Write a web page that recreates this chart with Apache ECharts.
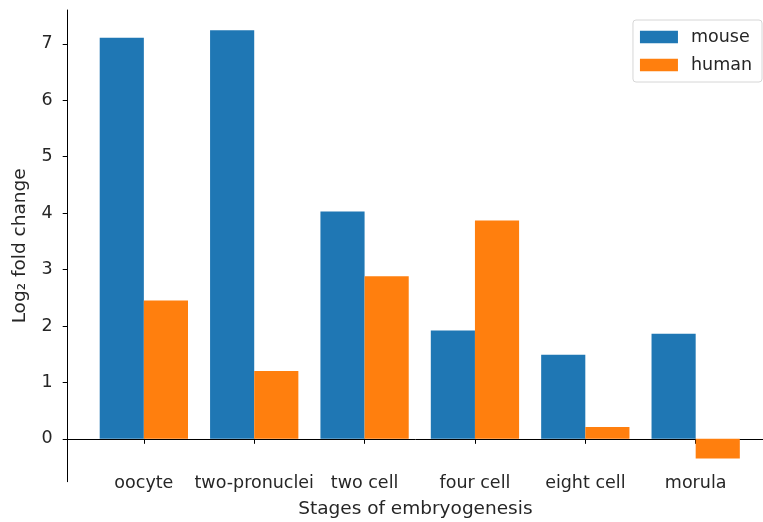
<!DOCTYPE html>
<html>
<head>
<meta charset="utf-8">
<script src="https://cdn.jsdelivr.net/npm/echarts@6/dist/echarts.min.js"></script>
<style>html,body{margin:0;padding:0;background:#fff}#c{width:763px;height:522px}</style>
</head>
<body>
<div id="c"></div>
<script>
var categories = ['oocyte', 'two-pronuclei', 'two cell', 'four cell', 'eight cell', 'morula'];
var mouse = [7.11, 7.24, 4.03, 1.92, 1.49, 1.86];
var human = [2.45, 1.20, 2.88, 3.87, 0.21, -0.35];
var yTicks = [0, 1, 2, 3, 4, 5, 6, 7];
var xPositions = categories.map(function (c, i) { return i; });

var font = 'DejaVu Sans';
var txt = '#262626';
var chart = echarts.init(document.getElementById('c'));
chart.setOption({
  animation: false,
  textStyle: { fontFamily: font },
  grid: { left: 67.7, right: 0, top: 10, bottom: 40.3, containLabel: false, outerBoundsMode: 'none' },
  legend: {
    data: ['mouse', 'human'],
    orient: 'vertical',
    right: 1, top: 20,
    itemWidth: 38, itemHeight: 12.5, itemGap: 10,
    icon: 'rect',
    padding: [8, 10, 8, 7],
    borderColor: '#d6d6d6', borderWidth: 1, borderRadius: 3,
    textStyle: { fontFamily: font, fontSize: 17.5, color: txt, padding: [0, 0, 0, 8] }
  },
  xAxis: {
    type: 'value',
    min: -0.69, max: 5.61,
    name: 'Stages of embryogenesis',
    nameLocation: 'middle', nameGap: 17.5,
    nameTextStyle: { fontFamily: font, fontSize: 18.5, color: txt },
    axisLine: { onZero: true, lineStyle: { color: '#000', width: 1 } },
    axisTick: { show: true, length: 5, customValues: xPositions, lineStyle: { color: '#000' } },
    axisLabel: {
      customValues: xPositions, margin: -7,
      fontFamily: font, fontSize: 17.5, color: txt,
      formatter: function (v) { return categories[Math.round(v)]; }
    },
    splitLine: { show: false }
  },
  yAxis: {
    type: 'value',
    min: -0.76, max: 7.6,
    name: 'Log\u2082 fold change',
    nameLocation: 'middle', nameGap: 38, nameRotate: 90,
    nameTextStyle: { fontFamily: font, fontSize: 18.5, color: txt },
    axisLine: { show: true, onZero: false, lineStyle: { color: '#000', width: 1 } },
    axisTick: { show: true, length: 5, customValues: yTicks, lineStyle: { color: '#000' } },
    axisLabel: { customValues: yTicks, margin: 15, fontFamily: font, fontSize: 17.5, color: txt },
    splitLine: { show: false }
  },
  series: [
    {
      name: 'mouse', type: 'bar', barWidth: '40%', barGap: '0%',
      itemStyle: { color: '#1f77b4' },
      data: mouse.map(function (v, i) { return [xPositions[i], v]; })
    },
    {
      name: 'human', type: 'bar', barWidth: '40%', barGap: '0%',
      itemStyle: { color: '#ff7f0e' },
      data: human.map(function (v, i) { return [xPositions[i], v]; })
    }
  ]
});
</script>
</body>
</html>
